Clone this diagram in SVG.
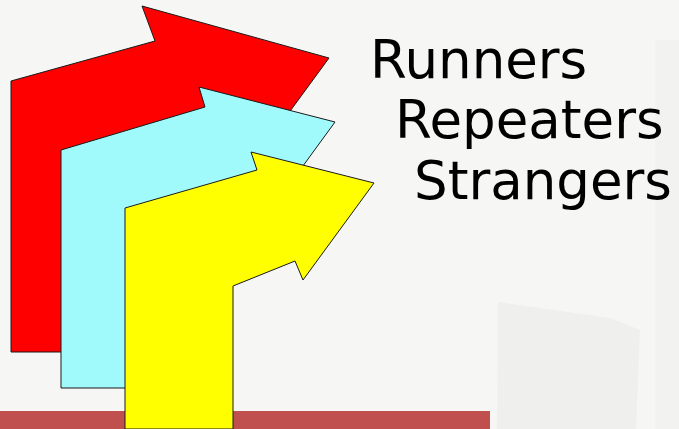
<svg xmlns="http://www.w3.org/2000/svg" width="679" height="429" viewBox="0 0 679 429">
<style>
.arrow{stroke:#1a1a1a;stroke-width:1;stroke-linejoin:miter}
.label{font-family:"DejaVu Sans",Verdana,sans-serif;font-size:53px;fill:#000}
</style>
<g id="background">
<rect x="0" y="0" width="679" height="429" fill="#f6f6f4"/>
<polygon points="498,302 610,318 640,330 636,429 497,429" fill="#efefee"/>
<rect x="655" y="40" width="24" height="389" fill="#f2f2f1"/>
</g>
<g id="bar"><rect x="0" y="411" width="490" height="18" fill="#c0504d"/></g>
<g id="arrow-runners">
<polygon class="arrow" fill="#ff0000" points="11,352 11,81 155,41 142,6 329,58 222,204 210,180 110,215 110,352"/>
</g>
<g id="arrow-repeaters">
<polygon class="arrow" fill="#a0fafc" points="61,388 61,150 205,107 199,87 335,122 257,229 248,207 175,235 175,388"/>
</g>
<g id="arrow-strangers">
<polygon class="arrow" fill="#ffff00" points="125,429 125,208 257,170 251,152 374,183 303,280 295,261 233,286 233,429"/>
</g>
<g id="labels">
<text class="label" x="370" y="78">Runners</text>
<text class="label" x="395" y="138">Repeaters</text>
<text class="label" x="414" y="199">Strangers</text>
</g>
<g id="connectors"></g>
</svg>
